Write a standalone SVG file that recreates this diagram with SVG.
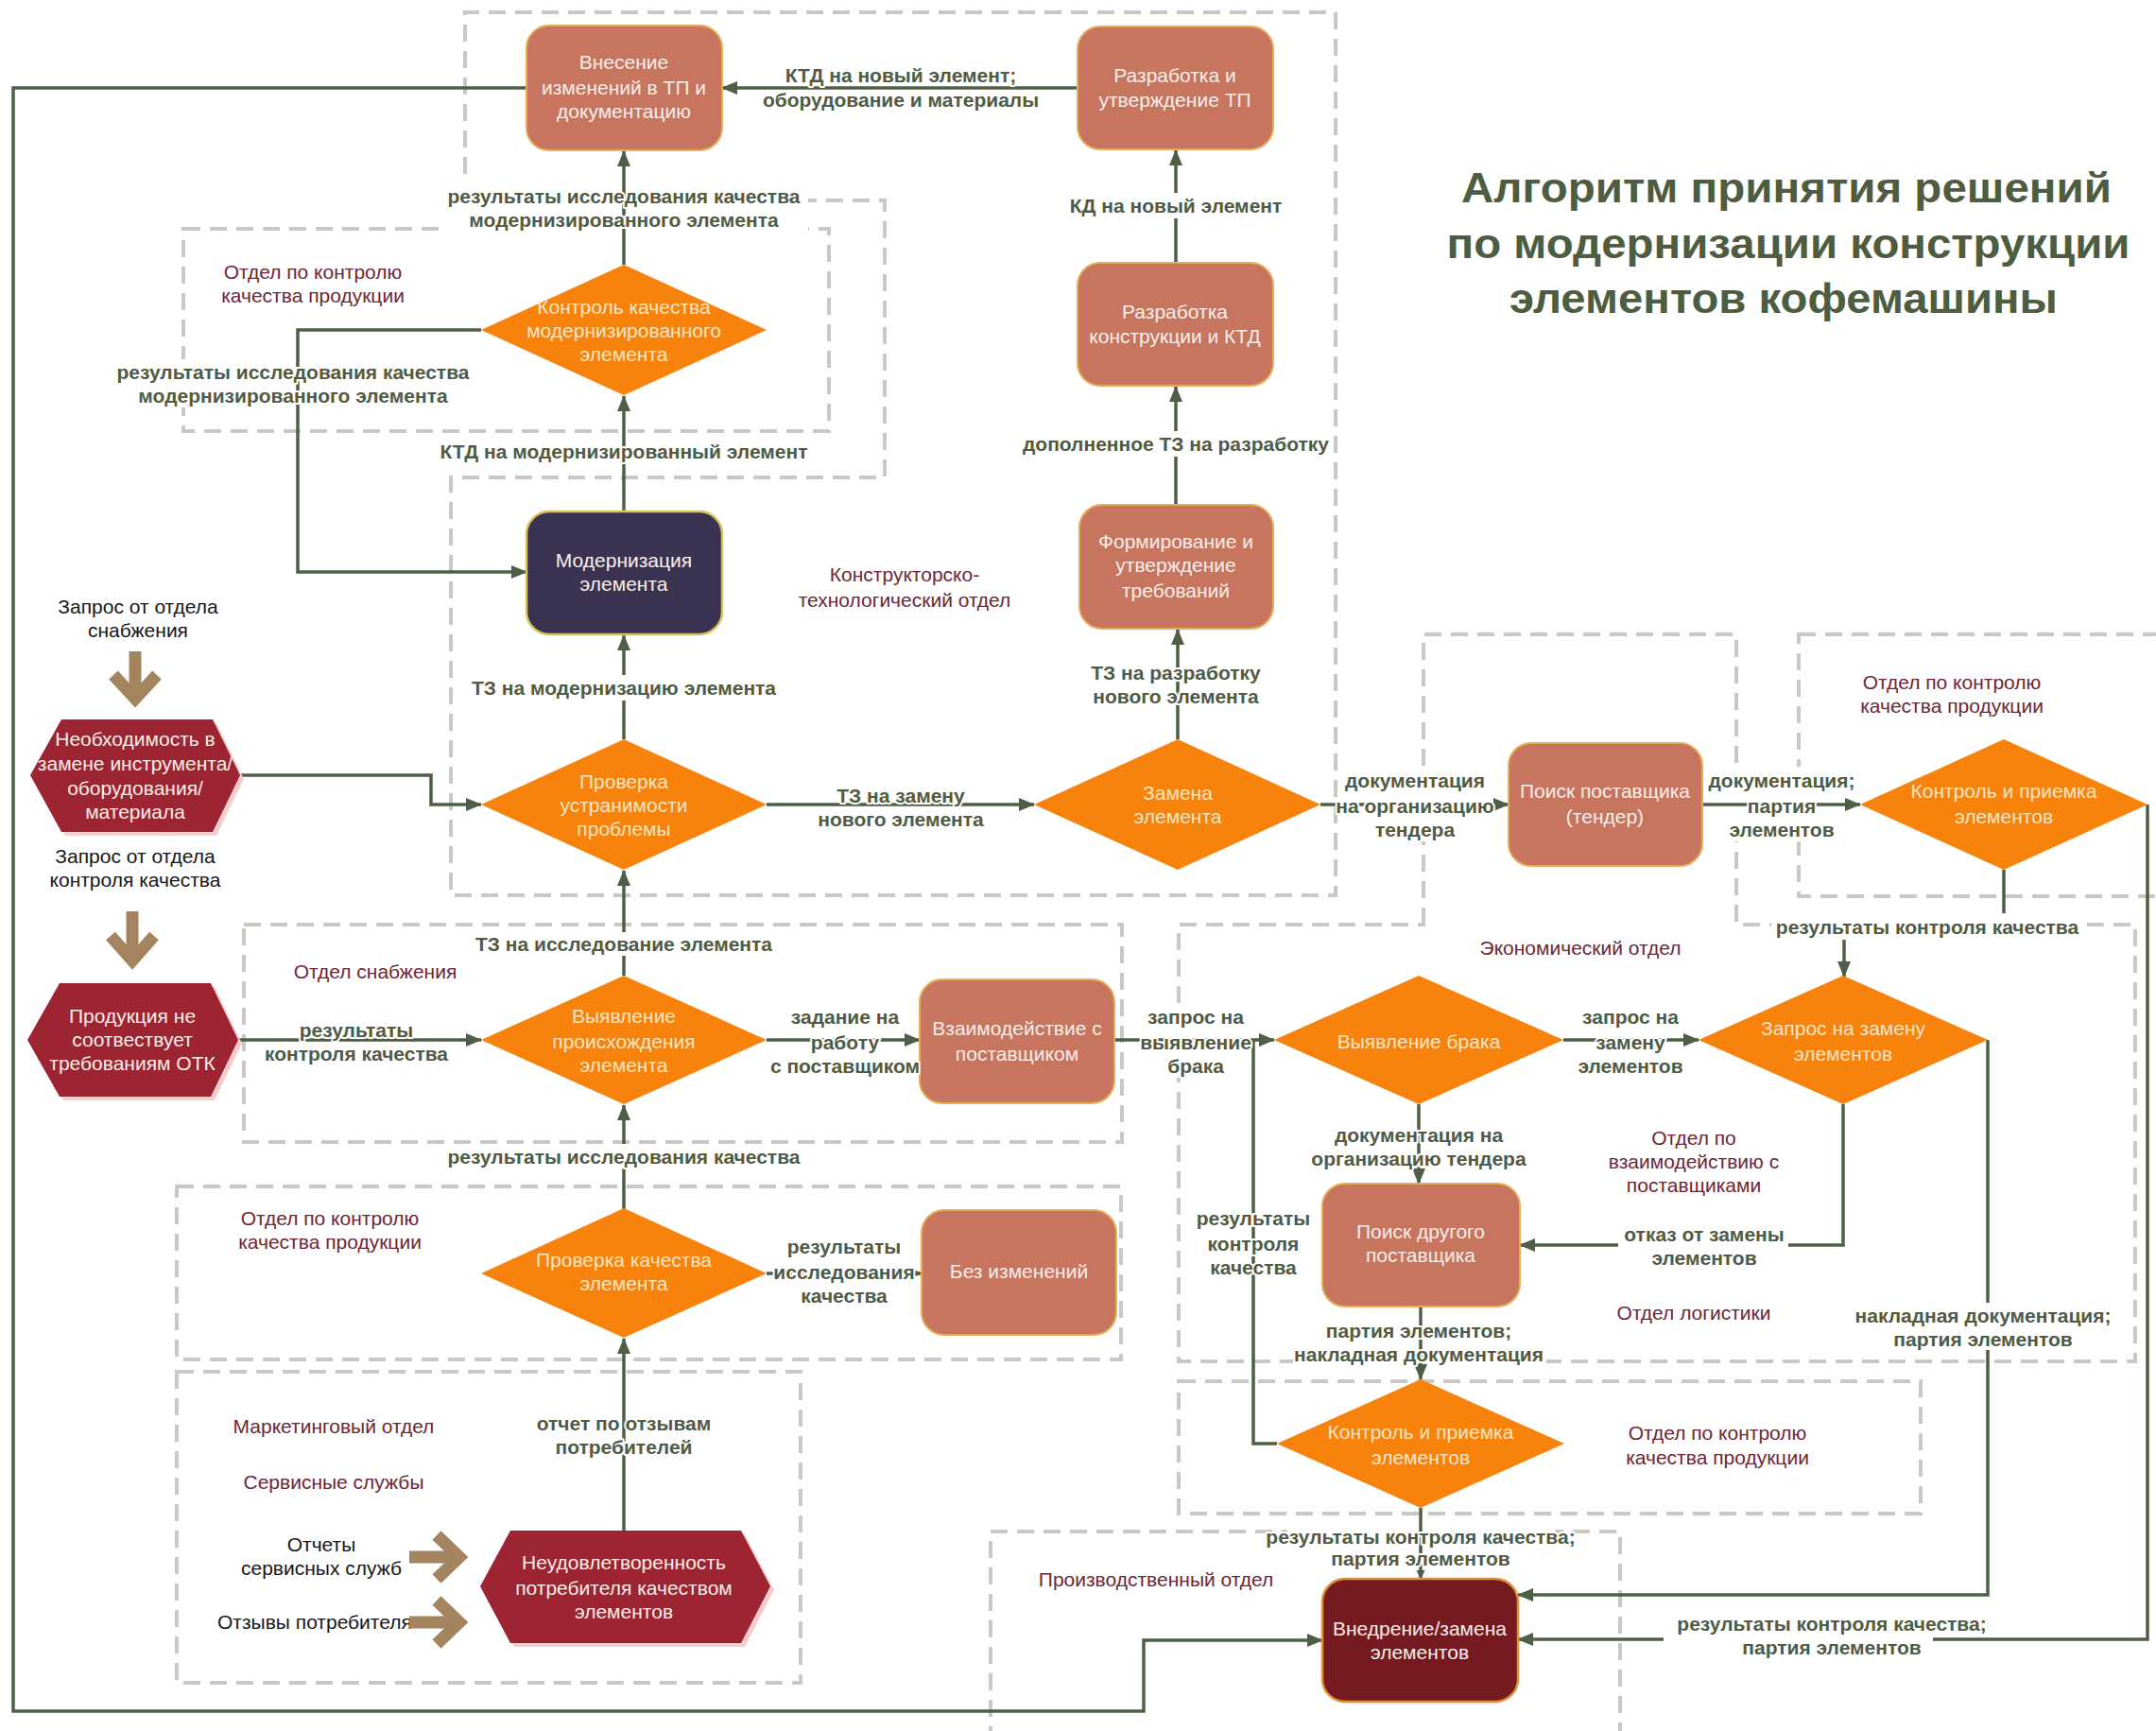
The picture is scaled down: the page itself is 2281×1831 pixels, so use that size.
<svg xmlns="http://www.w3.org/2000/svg" width="2281" height="1831" viewBox="0 0 2281 1831">
<defs>
<marker id="ah" markerWidth="17" markerHeight="14" refX="16" refY="7" orient="auto" markerUnits="userSpaceOnUse">
<path d="M0,0 L17,7 L0,14 Z" fill="#4f5f45"/>
</marker>
<marker id="ahs" markerWidth="10" markerHeight="9" refX="9" refY="4.5" orient="auto" markerUnits="userSpaceOnUse">
<path d="M0,0 L10,4.5 L0,9 Z" fill="#4f5f45"/>
</marker>
<style>
.dept{fill:none;stroke:#c9c9c3;stroke-width:4;stroke-dasharray:18 10}
.cn{fill:none;stroke:#4f5f45;stroke-width:3.5;marker-end:url(#ah)}
.cn0{fill:none;stroke:#4f5f45;stroke-width:3.5}
.box{fill:#c87560;stroke:#e4ae57;stroke-width:2}
.navy{fill:#3a3352;stroke:#d8c25a;stroke-width:2.5}
.maroon{fill:#761a21;stroke:#e0913a;stroke-width:2.5}
.dia{fill:#f7820c}
.hex{fill:#9d2432}
.hexs{fill:#f5cdcd}
.t{font-family:"Liberation Sans",Arial,sans-serif;font-size:21px;text-anchor:middle}
.tw{fill:#fbefe9}
.td{fill:#fde6c6}
.el{font-weight:bold;fill:#4f5b45;stroke:#fff;stroke-width:4;paint-order:stroke;stroke-linejoin:round}
.dl{fill:#6e2634}
.bl{fill:#161616}
.bg{fill:#fff}
.ba{fill:none;stroke:#a4845f;stroke-width:13;stroke-linejoin:miter;stroke-miterlimit:6}
.title{font-family:"Liberation Sans",Arial,sans-serif;font-size:45px;font-weight:bold;fill:#4e5d3f;text-anchor:middle}
</style>
</defs>
<rect width="2281" height="1831" fill="#fff"/>

<!-- department areas (dashed) -->
<g id="departments">
<path class="dept" d="M492,212 L492,13 L1413,13 L1413,947 L477,947 L477,505 L936,505 L936,212 Z"/>
<rect class="dept" x="194" y="242" width="683" height="214"/>
<rect class="dept" x="258" y="978" width="929" height="230"/>
<rect class="dept" x="187" y="1255" width="999" height="183"/>
<rect class="dept" x="187" y="1451" width="660" height="329"/>
<path class="dept" d="M1506,978 L1506,671 L1837,671 L1837,978 L2259,978 L2259,1440 L1247,1440 L1247,978 Z"/>
<rect class="dept" x="1903" y="671" width="400" height="277"/>
<rect class="dept" x="1247" y="1461" width="785" height="140"/>
<rect class="dept" x="1048" y="1620" width="666" height="230"/>
</g>

<!-- label backgrounds that mask area borders -->
<g id="label-bg-under">
<rect class="bg" x="465" y="193" width="390" height="53"/>
<rect class="bg" x="117" y="380" width="387" height="51"/>
<rect class="bg" x="1418" y="811" width="160" height="79"/>
<rect class="bg" x="1818" y="811" width="134" height="79"/>
<rect class="bg" x="1210" y="1062" width="112" height="78"/>
<rect class="bg" x="1368" y="1394" width="268" height="51"/>
<rect class="bg" x="1362" y="1612" width="283" height="48"/>
</g>

<!-- connectors -->
<g id="connectors">
<path class="cn" d="M557,93 L14,93 L14,1810 L1210,1810 L1210,1735 L1399,1735"/>
<path class="cn" d="M1140,93 L764,93"/>
<path class="cn" d="M1244,278 L1244,159"/>
<path class="cn" d="M1244,534 L1244,409"/>
<path class="cn" d="M1246,782 L1246,666"/>
<path class="cn" d="M811,851 L1094,851"/>
<path class="cn" d="M660,782 L660,672"/>
<path class="cn" d="M660,541 L660,419"/>
<path class="cn" d="M660,280 L660,160"/>
<path class="cn" d="M509,349 L315,349 L315,605 L557,605"/>
<path class="cn" d="M254,820 L456,820 L456,851 L509,851"/>
<path class="cn" d="M252,1100 L509,1100"/>
<path class="cn" d="M660,1032 L660,921"/>
<path class="cn" d="M811,1100 L973,1100"/>
<path class="cn" d="M660,1279 L660,1169"/>
<path class="cn" d="M811,1347 L975,1347"/>
<path class="cn" d="M660,1619 L660,1416"/>
<path class="cn" d="M1179,1100 L1348,1100"/>
<path class="cn" d="M1397,851 L1596,851"/>
<path class="cn" d="M1801,851 L1968,851"/>
<path class="cn" d="M2120,920 L2120,980 L1951,980 L1951,1033"/>
<path class="cn" d="M2272,851 L2272,1734 L1606,1734"/>
<path class="cn" d="M1654,1100 L1797,1100"/>
<path class="cn" d="M2103,1100 L2103,1687 L1606,1687"/>
<path class="cn" d="M1950,1168 L1950,1317 L1608,1317"/>
<path class="cn" d="M1501,1168 L1501,1252"/>
<path class="cn" d="M1503,1382 L1503,1459"/>
<path class="cn0" d="M1351,1527 L1326,1527 L1326,1100"/>
<path class="cn0" d="M1503,1595 L1503,1670" marker-end="url(#ahs)"/>
</g>

<!-- label backgrounds that mask connectors -->
<g id="label-bg-over">
<rect class="bg" x="1128" y="204" width="232" height="27"/>
<rect class="bg" x="1077" y="456" width="334" height="27"/>
<rect class="bg" x="495" y="714" width="331" height="27"/>
<rect class="bg" x="1874" y="966" width="331" height="28"/>
<rect class="bg" x="499" y="986" width="322" height="25"/>
<rect class="bg" x="468" y="1210" width="383" height="26"/>
<rect class="bg" x="1712" y="1296" width="180" height="44"/>
<rect class="bg" x="1957" y="1378" width="278" height="50"/>
<rect class="bg" x="1760" y="1705" width="285" height="50"/>
</g>

<!-- nodes -->
<g id="n-vnesenie">
<rect class="box" x="557" y="27" width="207" height="132" rx="24"/>
<text class="t tw"><tspan x="660" y="73">Внесение</tspan><tspan x="660" y="100">изменений в ТП и</tspan><tspan x="660" y="125">документацию</tspan></text>
</g>
<g id="n-razrabotka-tp">
<rect class="box" x="1140" y="28" width="207" height="130" rx="24"/>
<text class="t tw"><tspan x="1243" y="87">Разработка и</tspan><tspan x="1243" y="113">утверждение ТП</tspan></text>
</g>
<g id="n-razrabotka-ktd">
<rect class="box" x="1140" y="278" width="207" height="130" rx="24"/>
<text class="t tw"><tspan x="1243" y="337">Разработка</tspan><tspan x="1243" y="363">конструкции и КТД</tspan></text>
</g>
<g id="n-kontrol-mod">
<polygon class="dia" points="660,280 811,349 660,418 509,349"/>
<text class="t td"><tspan x="660" y="332">Контроль качества</tspan><tspan x="660" y="357">модернизированного</tspan><tspan x="660" y="382">элемента</tspan></text>
</g>
<g id="n-modernizatsiya">
<rect class="navy" x="557" y="541" width="207" height="130" rx="24"/>
<text class="t tw"><tspan x="660" y="600">Модернизация</tspan><tspan x="660" y="625">элемента</tspan></text>
</g>
<g id="n-formirovanie">
<rect class="box" x="1142" y="534" width="205" height="131" rx="24"/>
<text class="t tw"><tspan x="1244" y="580">Формирование и</tspan><tspan x="1244" y="605">утверждение</tspan><tspan x="1244" y="632">требований</tspan></text>
</g>
<g id="n-neobkhodimost">
<polygon class="hexs" points="36,824 69,765 229,765 258,824 229,884 69,884"/>
<polygon class="hex" points="32,820 65,761 225,761 254,820 225,880 65,880"/>
<text class="t tw"><tspan x="143" y="789">Необходимость в</tspan><tspan x="143" y="815">замене инструмента/</tspan><tspan x="143" y="841">оборудования/</tspan><tspan x="143" y="866">материала</tspan></text>
</g>
<g id="n-proverka-ustr">
<polygon class="dia" points="660,782 811,851 660,920 509,851"/>
<text class="t td"><tspan x="660" y="834">Проверка</tspan><tspan x="660" y="859">устранимости</tspan><tspan x="660" y="884">проблемы</tspan></text>
</g>
<g id="n-zamena">
<polygon class="dia" points="1246,782 1397,851 1246,920 1094,851"/>
<text class="t td"><tspan x="1246" y="846">Замена</tspan><tspan x="1246" y="871">элемента</tspan></text>
</g>
<g id="n-poisk-postavshchika">
<rect class="box" x="1596" y="786" width="205" height="130" rx="24"/>
<text class="t tw"><tspan x="1698" y="844">Поиск поставщика</tspan><tspan x="1698" y="871">(тендер)</tspan></text>
</g>
<g id="n-kontrol-priemka-1">
<polygon class="dia" points="2120,782 2272,851 2120,920 1968,851"/>
<text class="t td"><tspan x="2120" y="844">Контроль и приемка</tspan><tspan x="2120" y="871">элементов</tspan></text>
</g>
<g id="n-produktsiya">
<polygon class="hexs" points="33,1104 67,1044 227,1044 256,1104 227,1164 67,1164"/>
<polygon class="hex" points="29,1100 63,1040 223,1040 252,1100 223,1160 63,1160"/>
<text class="t tw"><tspan x="140" y="1082">Продукция не</tspan><tspan x="140" y="1107">соотвествует</tspan><tspan x="140" y="1132">требованиям ОТК</tspan></text>
</g>
<g id="n-vyyavlenie-proiskh">
<polygon class="dia" points="660,1032 811,1100 660,1168 509,1100"/>
<text class="t td"><tspan x="660" y="1082">Выявление</tspan><tspan x="660" y="1109">происхождения</tspan><tspan x="660" y="1134">элемента</tspan></text>
</g>
<g id="n-vzaimodeystvie">
<rect class="box" x="973" y="1036" width="206" height="131" rx="24"/>
<text class="t tw"><tspan x="1076" y="1095">Взаимодействие с</tspan><tspan x="1076" y="1122">поставщиком</tspan></text>
</g>
<g id="n-vyyavlenie-braka">
<polygon class="dia" points="1501,1032 1654,1100 1501,1168 1348,1100"/>
<text class="t td"><tspan x="1501" y="1109">Выявление брака</tspan></text>
</g>
<g id="n-zapros-zamena">
<polygon class="dia" points="1950,1032 2103,1100 1950,1168 1797,1100"/>
<text class="t td"><tspan x="1950" y="1095">Запрос на замену</tspan><tspan x="1950" y="1122">элементов</tspan></text>
</g>
<g id="n-proverka-kach">
<polygon class="dia" points="660,1278 811,1347 660,1415 509,1347"/>
<text class="t td"><tspan x="660" y="1340">Проверка качества</tspan><tspan x="660" y="1365">элемента</tspan></text>
</g>
<g id="n-bez-izmeneniy">
<rect class="box" x="975" y="1280" width="206" height="132" rx="24"/>
<text class="t tw"><tspan x="1078" y="1352">Без изменений</tspan></text>
</g>
<g id="n-poisk-drugogo">
<rect class="box" x="1399" y="1252" width="209" height="130" rx="24"/>
<text class="t tw"><tspan x="1503" y="1310">Поиск другого</tspan><tspan x="1503" y="1335">поставщика</tspan></text>
</g>
<g id="n-kontrol-priemka-2">
<polygon class="dia" points="1503,1459 1655,1527 1503,1595 1351,1527"/>
<text class="t td"><tspan x="1503" y="1522">Контроль и приемка</tspan><tspan x="1503" y="1549">элементов</tspan></text>
</g>
<g id="n-neudovletvorennost">
<polygon class="hexs" points="512,1682 544,1623 788,1623 819,1682 788,1742 544,1742"/>
<polygon class="hex" points="508,1678 540,1619 784,1619 815,1678 784,1738 540,1738"/>
<text class="t tw"><tspan x="660" y="1660">Неудовлетворенность</tspan><tspan x="660" y="1687">потребителя качеством</tspan><tspan x="660" y="1712">элементов</tspan></text>
</g>
<g id="n-vnedrenie">
<rect class="maroon" x="1399" y="1670" width="207" height="130" rx="24"/>
<text class="t tw"><tspan x="1502" y="1730">Внедрение/замена</tspan><tspan x="1502" y="1755">элементов</tspan></text>
</g>

<!-- connector labels -->
<g id="edge-labels" class="t el">
<text><tspan x="953" y="87">КТД на новый элемент;</tspan><tspan x="953" y="113">оборудование и материалы</tspan></text>
<text><tspan x="660" y="215">результаты исследования качества</tspan><tspan x="660" y="240">модернизированного элемента</tspan></text>
<text><tspan x="1244" y="225">КД на новый элемент</tspan></text>
<text><tspan x="1244" y="477">дополненное ТЗ на разработку</tspan></text>
<text><tspan x="1244" y="719">ТЗ на разработку</tspan><tspan x="1244" y="744">нового элемента</tspan></text>
<text><tspan x="660" y="735">ТЗ на модернизацию элемента</tspan></text>
<text><tspan x="660" y="485">КТД на модернизированный элемент</tspan></text>
<text><tspan x="310" y="401">результаты исследования качества</tspan><tspan x="310" y="426">модернизированного элемента</tspan></text>
<text><tspan x="953" y="849">ТЗ на замену</tspan><tspan x="953" y="874">нового элемента</tspan></text>
<text><tspan x="1497" y="833">документация</tspan><tspan x="1497" y="860">на организацию</tspan><tspan x="1497" y="885">тендера</tspan></text>
<text><tspan x="1885" y="833">документация;</tspan><tspan x="1885" y="860">партия</tspan><tspan x="1885" y="885">элементов</tspan></text>
<text><tspan x="2039" y="988">результаты контроля качества</tspan></text>
<text><tspan x="660" y="1006">ТЗ на исследование элемента</tspan></text>
<text><tspan x="377" y="1097">результаты</tspan><tspan x="377" y="1122">контроля качества</tspan></text>
<text><tspan x="894" y="1083">задание на</tspan><tspan x="894" y="1110">работу</tspan><tspan x="894" y="1135">с поставщиком</tspan></text>
<text><tspan x="1265" y="1083">запрос на</tspan><tspan x="1265" y="1110">выявление</tspan><tspan x="1265" y="1135">брака</tspan></text>
<text><tspan x="1725" y="1083">запрос на</tspan><tspan x="1725" y="1110">замену</tspan><tspan x="1725" y="1135">элементов</tspan></text>
<text><tspan x="660" y="1231">результаты исследования качества</tspan></text>
<text><tspan x="893" y="1326">результаты</tspan><tspan x="893" y="1353">исследования</tspan><tspan x="893" y="1378">качества</tspan></text>
<text><tspan x="1501" y="1208">документация на</tspan><tspan x="1501" y="1233">организацию тендера</tspan></text>
<text><tspan x="1326" y="1296">результаты</tspan><tspan x="1326" y="1323">контроля</tspan><tspan x="1326" y="1348">качества</tspan></text>
<text><tspan x="1803" y="1313">отказ от замены</tspan><tspan x="1803" y="1338">элементов</tspan></text>
<text><tspan x="1501" y="1415">партия элементов;</tspan><tspan x="1501" y="1440">накладная документация</tspan></text>
<text><tspan x="2098" y="1399">накладная документация;</tspan><tspan x="2098" y="1424">партия элементов</tspan></text>
<text><tspan x="1503" y="1633">результаты контроля качества;</tspan><tspan x="1503" y="1656">партия элементов</tspan></text>
<text><tspan x="1938" y="1725">результаты контроля качества;</tspan><tspan x="1938" y="1750">партия элементов</tspan></text>
<text><tspan x="660" y="1513">отчет по отзывам</tspan><tspan x="660" y="1538">потребителей</tspan></text>
</g>

<!-- department names -->
<g id="dept-labels" class="t dl">
<text><tspan x="331" y="295">Отдел по контролю</tspan><tspan x="331" y="320">качества продукции</tspan></text>
<text><tspan x="957" y="615">Конструкторско-</tspan><tspan x="957" y="642">технологический отдел</tspan></text>
<text><tspan x="397" y="1035">Отдел снабжения</tspan></text>
<text><tspan x="349" y="1296">Отдел по контролю</tspan><tspan x="349" y="1321">качества продукции</tspan></text>
<text><tspan x="353" y="1516">Маркетинговый отдел</tspan></text>
<text><tspan x="353" y="1575">Сервисные службы</tspan></text>
<text><tspan x="2065" y="729">Отдел по контролю</tspan><tspan x="2065" y="754">качества продукции</tspan></text>
<text><tspan x="1672" y="1010">Экономический отдел</tspan></text>
<text><tspan x="1792" y="1211">Отдел по</tspan><tspan x="1792" y="1236">взаимодействию с</tspan><tspan x="1792" y="1261">поставщиками</tspan></text>
<text><tspan x="1792" y="1396">Отдел логистики</tspan></text>
<text><tspan x="1817" y="1523">Отдел по контролю</tspan><tspan x="1817" y="1549">качества продукции</tspan></text>
<text><tspan x="1223" y="1678">Производственный отдел</tspan></text>
</g>

<!-- incoming triggers -->
<g id="triggers" class="t bl">
<text><tspan x="146" y="649">Запрос от отдела</tspan><tspan x="146" y="674">снабжения</tspan></text>
<text><tspan x="143" y="913">Запрос от отдела</tspan><tspan x="143" y="938">контроля качества</tspan></text>
<text><tspan x="340" y="1641">Отчеты</tspan><tspan x="340" y="1666">сервисных служб</tspan></text>
<text style="text-anchor:start"><tspan x="230" y="1723">Отзывы потребителя</tspan></text>
</g>
<g id="trigger-arrows">
<path class="ba" d="M143,689 L143,735"/><polyline class="ba" points="120,714 143,739 166,714"/>
<path class="ba" d="M140,964 L140,1011"/><polyline class="ba" points="117,990 140,1016 163,990"/>
<path class="ba" d="M433,1647 L480,1647"/><polyline class="ba" points="462,1624 486,1647 462,1670"/>
<path class="ba" d="M433,1716 L480,1716"/><polyline class="ba" points="462,1693 486,1716 462,1739"/>
</g>

<!-- heading -->
<g id="title" class="title">
<text x="1890" y="214" textLength="688" lengthAdjust="spacingAndGlyphs">Алгоритм принятия решений</text>
<text x="1892" y="273" textLength="723" lengthAdjust="spacingAndGlyphs">по модернизации конструкции</text>
<text x="1887" y="331" textLength="580" lengthAdjust="spacingAndGlyphs">элементов кофемашины</text>
</g>
</svg>
